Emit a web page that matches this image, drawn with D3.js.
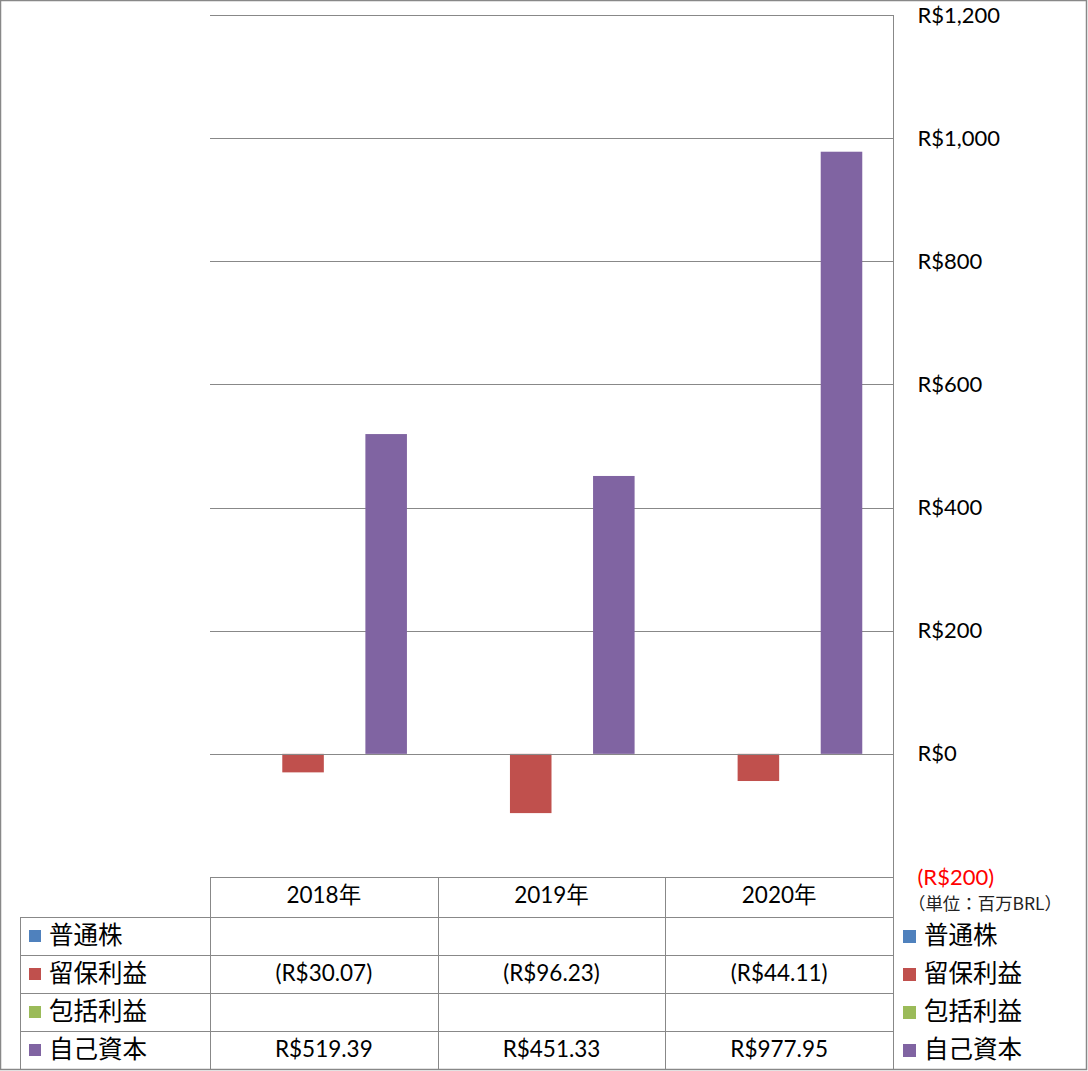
<!DOCTYPE html>
<html><head><meta charset="utf-8">
<script src="https://cdn.jsdelivr.net/npm/d3@7"></script>
<style>
body{margin:0;background:#fff;}
svg{display:block;font-family:Lato,'Noto Sans CJK JP',sans-serif;}
</style></head>
<body><svg id="c" width="1088" height="1071"></svg>
<script>
const years = ["2018年","2019年","2020年"];
const seriesNames = ["普通株","留保利益","包括利益","自己資本"];
const seriesColors = ["#4F81BD","#C0504D","#9BBB59","#8064A2"];
const commonStock = [null,null,null];
const retainedEarnings = [-30.07,-96.23,-44.11];
const comprehensiveIncome = [null,null,null];
const equity = [519.39,451.33,977.95];
const seriesValues = [commonStock, retainedEarnings, comprehensiveIncome, equity];
const tickValues = [-200,0,200,400,600,800,1000,1200];
const unitLabel = "（単位：百万BRL）";

(function(){
const svg = d3.select("#c");
const W=1088,H=1071;
const pLeft=210,pRight=893,pTop=15,bottomAxis=877;
const rowH=38, tableLeft=20;
const grid="#888";

svg.append("rect").attr("x",0.5).attr("y",0.5).attr("width",W-2).attr("height",H-2)
  .attr("fill","#fff").attr("stroke",grid).attr("stroke-width",1.5);

const y = d3.scaleLinear().domain([-200,1200]).range([bottomAxis,pTop]);
const x = d3.scaleBand().domain(years).range([pLeft,pRight]).padding(0);
const bw = x.bandwidth();
const gap = bw*0.27;
const xs = d3.scaleBand().domain(d3.range(4)).range([gap/2,bw-gap/2]).padding(0);

svg.append("g").selectAll("line").data(tickValues).join("line")
  .attr("x1",pLeft).attr("x2",pRight).attr("y1",d=>Math.round(y(d))+0.5).attr("y2",d=>Math.round(y(d))+0.5)
  .attr("stroke",grid).attr("stroke-width",1);

seriesValues.forEach((vals,si)=>{
  svg.append("g").selectAll("rect").data(vals.map((v,i)=>({v,i})).filter(d=>d.v!==null)).join("rect")
    .attr("x",d=>x(years[d.i])+xs(si)).attr("width",xs.bandwidth())
    .attr("y",d=>y(Math.max(0,d.v))).attr("height",d=>Math.abs(y(d.v)-y(0)))
    .attr("fill",seriesColors[si]);
});
svg.append("line").attr("x1",pLeft).attr("x2",pRight).attr("y1",Math.round(y(0))+0.5).attr("y2",Math.round(y(0))+0.5)
  .attr("stroke",grid);

const fmtAxis = v => v<0 ? `(R$${d3.format(",")(-v)})` : `R$${d3.format(",")(v)}`;
const ax = svg.append("g").attr("transform",`translate(${pRight+0.5},0)`)
  .call(d3.axisRight(y).tickValues(tickValues).tickSize(0).tickPadding(24).tickFormat(fmtAxis));
ax.select(".domain").remove();
ax.selectAll("text").attr("font-family","Lato,sans-serif").attr("font-size",22)
  .attr("fill",d=>d<0?"#FF0000":"#000");
svg.append("line").attr("x1",pRight+0.5).attr("x2",pRight+0.5).attr("y1",pTop).attr("y2",H-2).attr("stroke",grid);

svg.append("text").attr("x",908).attr("y",905).attr("dominant-baseline","middle")
  .attr("font-size",17).attr("fill","#222").attr("textLength",154).attr("lengthAdjust","spacingAndGlyphs")
  .attr("font-family","'Noto Sans CJK JP',sans-serif").text(unitLabel);

const tb = svg.append("g");
const hy = bottomAxis;
const rowsTop = hy+40;
tb.append("line").attr("x1",pLeft).attr("x2",pRight).attr("y1",hy+0.5).attr("y2",hy+0.5).attr("stroke",grid);
for(let r=0;r<=4;r++){
  const yy = rowsTop + r*rowH;
  tb.append("line").attr("x1",tableLeft).attr("x2",pRight).attr("y1",yy+0.5).attr("y2",yy+0.5).attr("stroke",grid);
}
tb.append("line").attr("x1",tableLeft+0.5).attr("x2",tableLeft+0.5).attr("y1",rowsTop).attr("y2",rowsTop+4*rowH).attr("stroke",grid);
years.forEach(yr=>{
  const xx = Math.round(x(yr))+0.5;
  tb.append("line").attr("x1",xx).attr("x2",xx).attr("y1",hy).attr("y2",rowsTop+4*rowH).attr("stroke",grid);
});
tb.selectAll("text.hdr").data(years).join("text").attr("class","hdr")
  .attr("x",d=>x(d)+bw/2).attr("y",hy+20).attr("text-anchor","middle").attr("dominant-baseline","middle")
  .attr("font-size",22.5).text(d=>d);
const fmtCell = v => v===null ? "" : (v<0 ? `(R$${(-v).toFixed(2)})` : `R$${v.toFixed(2)}`);
seriesNames.forEach((name,si)=>{
  const cy = rowsTop + si*rowH + rowH/2;
  tb.append("rect").attr("x",29).attr("y",cy-6).attr("width",12).attr("height",12).attr("fill",seriesColors[si]);
  tb.append("text").attr("x",49).attr("y",cy+1).attr("dominant-baseline","middle").attr("font-size",24.5)
    .attr("font-family","'Noto Sans CJK JP',sans-serif").text(name);
  seriesValues[si].forEach((v,i)=>{
    tb.append("text").attr("x",x(years[i])+bw/2).attr("y",cy+1).attr("text-anchor","middle")
      .attr("dominant-baseline","middle").attr("font-size",22.5).text(fmtCell(v));
  });
  svg.append("rect").attr("x",903).attr("y",cy-6).attr("width",13).attr("height",13).attr("fill",seriesColors[si]);
  svg.append("text").attr("x",924).attr("y",cy+1).attr("dominant-baseline","middle").attr("font-size",24.5)
    .attr("font-family","'Noto Sans CJK JP',sans-serif").text(name);
});
})();
</script></body></html>
